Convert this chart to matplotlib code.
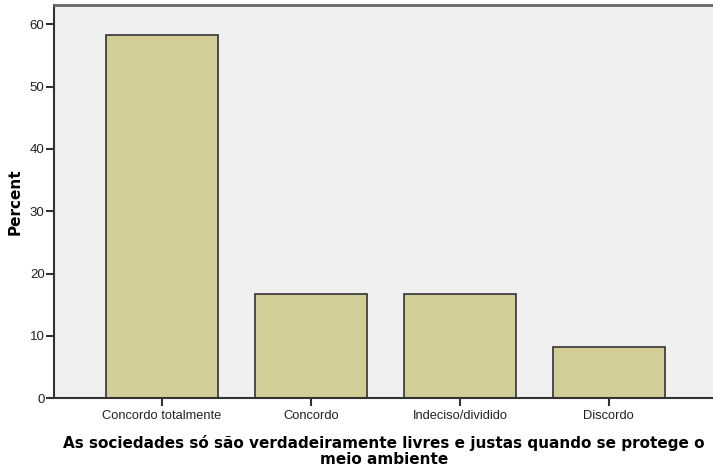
import matplotlib
matplotlib.use('Agg')
import matplotlib.pyplot as plt
import numpy as np

categories = ['Concordo totalmente', 'Concordo', 'Indeciso/dividido', 'Discordo']
percent = [58.3, 16.7, 16.7, 8.3]

xlabel = 'As sociedades só são verdadeiramente livres e justas quando se protege o\nmeio ambiente'

fig = plt.figure(figsize=(7.13, 4.75), dpi=100)
ax = fig.add_axes([0.0762, 0.1615, 0.9238, 0.828])
ax.set_facecolor('#f0f0f0')

x = np.arange(len(categories))
ax.bar(x, percent, width=0.75, color='#d3ce97', edgecolor='#333333', linewidth=1.2, zorder=2)

ax.set_xlim(-0.724, 3.70)
ax.set_ylim(0, 63.1)
ax.set_yticks([0, 10, 20, 30, 40, 50, 60])
ax.set_xticks(x)
ax.set_xticklabels(categories, fontfamily='Liberation Sans', fontsize=9.3, color='#222222')
for lab in ax.get_yticklabels():
    lab.set_fontfamily('Liberation Sans')
    lab.set_fontsize(9.5)
    lab.set_color('#222222')

ax.tick_params(axis='both', direction='out', length=6, width=1.5, color='#333333')
ax.tick_params(axis='y', pad=1)
ax.tick_params(axis='x', pad=2.5)

ax.spines['left'].set_color('#333333')
ax.spines['left'].set_linewidth(1.5)
ax.spines['bottom'].set_color('#333333')
ax.spines['bottom'].set_linewidth(1.5)
ax.spines['top'].set_color('#666666')
ax.spines['top'].set_linewidth(2)
ax.spines['right'].set_visible(False)

ax.set_xlabel(xlabel, fontsize=11, fontweight='bold', color='black', labelpad=9, linespacing=1.1)
ax.set_ylabel('Percent', fontsize=11, fontweight='bold', color='black', labelpad=5)

fig.savefig('out.png', dpi=100)
